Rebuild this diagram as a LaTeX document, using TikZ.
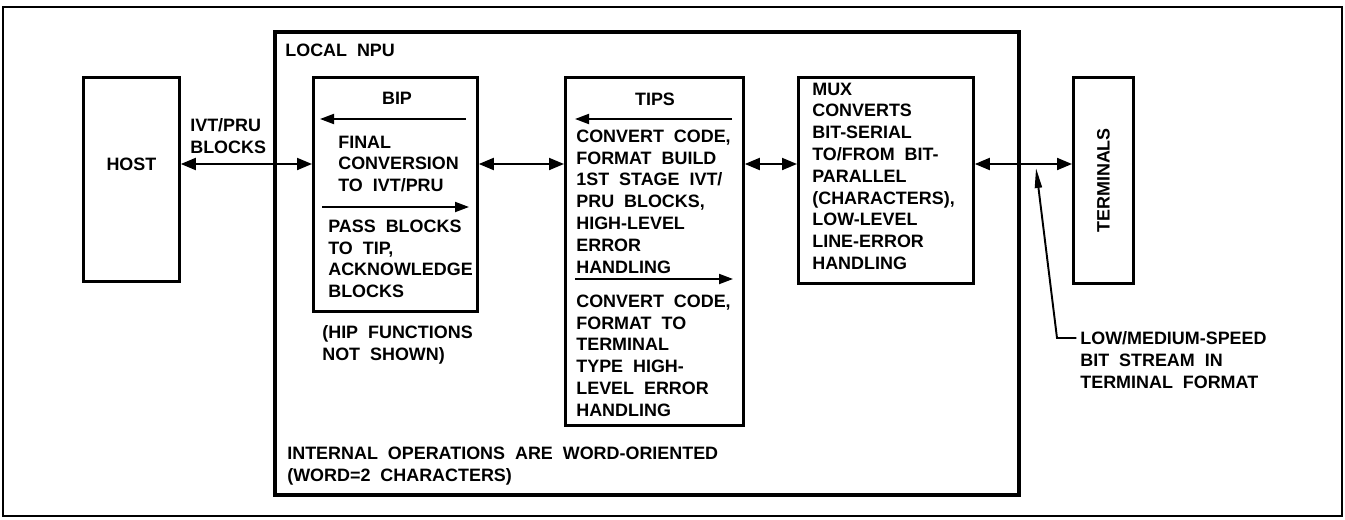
\documentclass[tikz,border=0pt]{standalone}
\usepackage{fontspec}
\setmainfont[WordSpace=2]{Liberation Sans}
\usetikzlibrary{arrows.meta}

\tikzset{
  box/.style={draw, line width=1.6pt, anchor=north west, inner sep=0pt},
  txt/.style={anchor=north west, align=left, inner sep=0pt, font=\fontsize{10.2}{12.4}\selectfont\bfseries},
  link/.style={{Triangle[length=0.3cm,width=0.24cm]}-{Triangle[length=0.3cm,width=0.24cm]}, line width=1.1pt},
  flow/.style={-{Triangle[length=0.28cm,width=0.2cm]}, line width=1.1pt},
}

\begin{document}
\begin{tikzpicture}
  \useasboundingbox (0,0) rectangle (26.9,10.38);
  \draw[line width=1.1pt] (0.06,0.06) rectangle (26.84,10.24);

  % boxes
  \node[box, line width=2.3pt, minimum width=14.88cm, minimum height=9.26cm] (npu) at (5.46,9.78) {};
  \node[box, minimum width=1.92cm, minimum height=4.08cm] (host) at (1.64,8.86) {};
  \node[box, minimum width=3.28cm, minimum height=4.68cm] (bip) at (6.24,8.86) {};
  \node[box, minimum width=3.56cm, minimum height=6.96cm] (tips) at (11.28,8.86) {};
  \node[box, minimum width=3.50cm, minimum height=4.12cm] (mux) at (15.94,8.86) {};
  \node[box, minimum width=1.20cm, minimum height=4.12cm] (term) at (21.44,8.86) {};

  % links between the boxes
  \coordinate (lane) at (0,7.10);
  \draw[link] (host.east |- lane) -- (bip.west |- lane);
  \draw[link] (bip.east |- lane) -- (tips.west |- lane);
  \draw[link] (tips.east |- lane) -- (mux.west |- lane);
  \draw[link] (mux.east |- lane) -- (term.west |- lane);

  \node[txt, anchor=center] (hosttxt) at (host.center |- lane) {HOST};
  \node[txt] (npulbl) at (5.70,9.51) {LOCAL NPU};
  \node[txt] (blocks) at (3.80,8.01) {IVT/PRU\\BLOCKS};

  % BIP
  \node[txt, anchor=center] (biptitle) at (7.94,8.42) {BIP};
  \draw[flow] (9.32,8.00) -- (6.40,8.00);
  \node[txt] (final) at (6.76,7.67) {FINAL\\CONVERSION\\TO IVT/PRU};
  \draw[flow] (6.44,6.24) -- (9.38,6.24);
  \node[txt] (pass) at (6.56,5.99) {PASS BLOCKS\\TO TIP,\\ACKNOWLEDGE\\BLOCKS};
  \node[txt] (hip) at (6.44,3.87) {(HIP FUNCTIONS\\NOT SHOWN)};

  % TIPS
  \node[txt, anchor=center] (tipstitle) at (13.10,8.40) {TIPS};
  \draw[flow] (14.64,8.00) -- (11.50,8.00);
  \node[txt] (inbound) at (11.52,7.79) {CONVERT CODE,\\FORMAT BUILD\\1ST STAGE IVT/\\PRU BLOCKS,\\HIGH-LEVEL\\ERROR\\HANDLING};
  \draw[flow] (11.50,4.80) -- (14.66,4.80);
  \node[txt] (outbound) at (11.52,4.49) {CONVERT CODE,\\FORMAT TO\\TERMINAL\\TYPE HIGH-\\LEVEL ERROR\\HANDLING};

  % MUX and terminals
  \node[txt] (muxtxt) at (16.24,8.73) {MUX\\CONVERTS\\BIT-SERIAL\\TO/FROM BIT-\\PARALLEL\\(CHARACTERS),\\LOW-LEVEL\\LINE-ERROR\\HANDLING};
  \node[txt, anchor=center, rotate=90] (termtxt) at (term.center) {TERMINALS};

  \node[txt] (internal) at (5.74,1.45) {INTERNAL OPERATIONS ARE WORD-ORIENTED\\(WORD=2 CHARACTERS)};
  \node[txt] (speed) at (21.60,3.75) {LOW/MEDIUM-SPEED\\BIT STREAM IN\\TERMINAL FORMAT};
  \coordinate (tap) at (20.72,7.02);
  \draw[line width=1.1pt, -{Triangle[length=0.4cm,width=0.14cm]}] ([xshift=-2pt,yshift=-0.13cm]speed.north west) -- (21.14,3.62) -- (tap);
\end{tikzpicture}
\end{document}
